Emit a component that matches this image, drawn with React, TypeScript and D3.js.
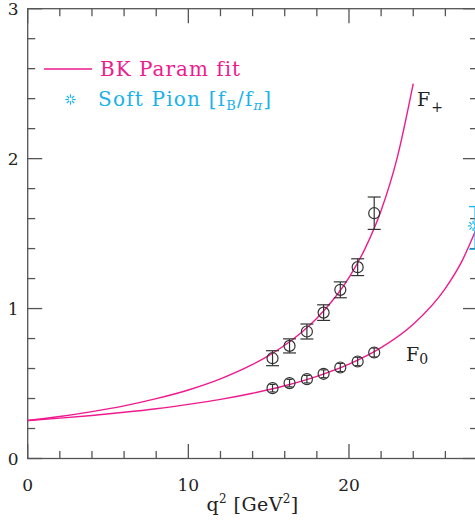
import React, { useRef, useEffect } from "react";
import * as d3 from "d3";

// lattice points (q^2 in GeV^2)
const q2Points = [15.24, 16.3, 17.38, 18.42, 19.46, 20.54, 21.57];
const fPlus = [0.669, 0.751, 0.847, 0.973, 1.125, 1.276, 1.636];
const fPlusErr = [0.05, 0.047, 0.05, 0.052, 0.053, 0.056, 0.108];
const fZero = [0.469, 0.503, 0.529, 0.565, 0.607, 0.647, 0.707];
const fZeroErr = [0.025, 0.025, 0.025, 0.026, 0.027, 0.028, 0.03];

// BK fit curves
const fitPlusQ2 = [0, 2, 4, 6, 8, 10, 12, 14, 15, 16, 17, 18, 19, 20, 21, 22, 23, 24];
const fitPlus = [0.253, 0.28, 0.313, 0.351, 0.399, 0.457, 0.531, 0.627, 0.686, 0.755, 0.837, 0.936, 1.057, 1.207, 1.4, 1.654, 2.005, 2.5];
const fitZeroQ2 = [0, 2, 4, 6, 8, 10, 12, 14, 16, 18, 20, 22, 24, 26, 27, 28];
const fitZero = [0.253, 0.269, 0.287, 0.308, 0.332, 0.361, 0.394, 0.435, 0.485, 0.548, 0.629, 0.739, 0.895, 1.135, 1.31, 1.55];

// soft pion point
const softQ2 = 27.85;
const softVal = 1.538;
const softErr = 0.142;

const xMajor = [0, 10, 20];
const xMinor = d3.range(0, 29, 2);
const yMajor = [0, 1, 2, 3];
const yMinor = d3.range(0, 3.01, 0.2);

const MAGENTA = "#ee1a8e";
const CYAN = "#1ab2ea";
const AXIS = "#555";
const FONT = "DejaVu Serif, serif";

const W = 475;
const H = 522;

export default function App() {
  const svgRef = useRef<SVGSVGElement | null>(null);

  useEffect(() => {
    const svg = svgRef.current;
    if (!svg) return;
    const sel = d3.select(svg);
    sel.selectAll("*").remove();

    const x = d3.scaleLinear().domain([0, 28]).range([27.7, 477.5]);
    const y = d3.scaleLinear().domain([0, 3]).range([458.5, 8.7]);
    const [x0, x1] = x.range();
    const [y0, y1] = y.range();

    // frame
    sel
      .append("rect")
      .attr("x", x0)
      .attr("y", y1)
      .attr("width", x1 - x0)
      .attr("height", y0 - y1)
      .attr("fill", "none")
      .attr("stroke", AXIS)
      .attr("stroke-width", 1.3);

    const ticks = sel.append("g").attr("stroke", AXIS).attr("stroke-width", 1.3);
    xMinor.forEach((v) => {
      const len = xMajor.includes(v) ? 14.5 : 7.5;
      ticks.append("line").attr("x1", x(v)).attr("x2", x(v)).attr("y1", y0).attr("y2", y0 - len);
      ticks.append("line").attr("x1", x(v)).attr("x2", x(v)).attr("y1", y1).attr("y2", y1 + len);
    });
    yMinor.forEach((v) => {
      const major = yMajor.some((m) => Math.abs(m - v) < 1e-6);
      const len = major ? 14.5 : 7.5;
      const yy = y(v);
      ticks.append("line").attr("x1", x0).attr("x2", x0 + len).attr("y1", yy).attr("y2", yy);
      ticks.append("line").attr("x1", x1).attr("x2", x1 - len).attr("y1", yy).attr("y2", yy);
    });

    // tick labels
    sel
      .append("g")
      .selectAll("text")
      .data(xMajor)
      .enter()
      .append("text")
      .attr("x", (d) => x(d))
      .attr("y", y0 + 32)
      .attr("text-anchor", "middle")
      .attr("font-family", FONT)
      .attr("font-size", 17)
      .attr("fill", "#222")
      .text((d) => String(d));

    sel
      .append("g")
      .selectAll("text")
      .data(yMajor)
      .enter()
      .append("text")
      .attr("x", x0 - 9)
      .attr("y", (d) => y(d) + 6)
      .attr("text-anchor", "end")
      .attr("font-family", FONT)
      .attr("font-size", 17)
      .attr("fill", "#222")
      .text((d) => String(d));

    // axis title
    const title = sel
      .append("text")
      .attr("x", (x0 + x1) / 2)
      .attr("y", 511)
      .attr("text-anchor", "middle")
      .attr("font-family", FONT)
      .attr("font-size", 19)
      .attr("letter-spacing", 0.4)
      .attr("fill", "#222");
    title.append("tspan").text("q");
    title.append("tspan").attr("dy", -8).attr("font-size", 12).text("2");
    title.append("tspan").attr("dy", 8).text("  [GeV");
    title.append("tspan").attr("dy", -8).attr("font-size", 12).text("2");
    title.append("tspan").attr("dy", 8).text("]");

    // fit curves
    const line = d3
      .line<[number, number]>()
      .x((d) => x(d[0]))
      .y((d) => y(d[1]))
      .curve(d3.curveMonotoneX);

    sel
      .append("path")
      .attr("d", line(fitPlusQ2.map((q, i) => [q, fitPlus[i]]) as [number, number][]))
      .attr("fill", "none")
      .attr("stroke", MAGENTA)
      .attr("stroke-width", 1.4);
    sel
      .append("path")
      .attr("d", line(fitZeroQ2.map((q, i) => [q, fitZero[i]]) as [number, number][]))
      .attr("fill", "none")
      .attr("stroke", MAGENTA)
      .attr("stroke-width", 1.4);

    // data points
    const drawPoints = (vals: number[], errs: number[], cap: number) => {
      const g = sel.append("g").attr("stroke", "#333").attr("stroke-width", 1.2).attr("fill", "none");
      q2Points.forEach((q, i) => {
        const cx = x(q);
        const top = y(vals[i] + errs[i]);
        const bot = y(vals[i] - errs[i]);
        g.append("line").attr("x1", cx).attr("x2", cx).attr("y1", top).attr("y2", bot);
        g.append("line").attr("x1", cx - cap).attr("x2", cx + cap).attr("y1", top).attr("y2", top);
        g.append("line").attr("x1", cx - cap).attr("x2", cx + cap).attr("y1", bot).attr("y2", bot);
        g.append("circle").attr("cx", cx).attr("cy", y(vals[i])).attr("r", 5.5);
      });
    };
    drawPoints(fPlus, fPlusErr, 6.5);
    drawPoints(fZero, fZeroErr, 3);

    // star marker
    const star = (cx: number, cy: number) => {
      const g = sel.append("g").attr("stroke", CYAN).attr("stroke-width", 1.2);
      d3.range(8).forEach((k) => {
        const a = (k * Math.PI) / 4;
        g.append("line")
          .attr("x1", cx + 1.8 * Math.cos(a))
          .attr("y1", cy + 1.8 * Math.sin(a))
          .attr("x2", cx + 5.2 * Math.cos(a))
          .attr("y2", cy + 5.2 * Math.sin(a));
      });
    };

    // soft pion point
    const sx = x(softQ2);
    const sg = sel.append("g").attr("stroke", CYAN).attr("stroke-width", 1.3);
    sg.append("line").attr("x1", sx).attr("x2", sx).attr("y1", y(softVal + softErr)).attr("y2", y(softVal - softErr));
    sg.append("line").attr("x1", sx - 6).attr("x2", sx + 6).attr("y1", y(softVal + softErr)).attr("y2", y(softVal + softErr));
    sg.append("line").attr("x1", sx - 6).attr("x2", sx + 6).attr("y1", y(softVal - softErr)).attr("y2", y(softVal - softErr));
    star(sx - 2, y(softVal) - 2);

    // legend
    sel
      .append("line")
      .attr("x1", 44)
      .attr("x2", 92)
      .attr("y1", 69)
      .attr("y2", 69)
      .attr("stroke", MAGENTA)
      .attr("stroke-width", 1.4);
    sel
      .append("text")
      .attr("x", 100)
      .attr("y", 76)
      .attr("font-family", FONT)
      .attr("font-size", 20)
      .attr("letter-spacing", 1.0)
      .attr("fill", MAGENTA)
      .text("BK Param fit");

    star(70.5, 99.5);
    const sp = sel
      .append("text")
      .attr("x", 98)
      .attr("y", 106)
      .attr("font-family", FONT)
      .attr("font-size", 20)
      .attr("letter-spacing", 1.2)
      .attr("fill", CYAN);
    sp.append("tspan").text("Soft Pion [f");
    sp.append("tspan").attr("dy", 4).attr("font-size", 13).text("B");
    sp.append("tspan").attr("dy", -4).text("/f");
    sp.append("tspan").attr("dy", 4).attr("font-size", 13).attr("font-style", "italic").text("π");
    sp.append("tspan").attr("dy", -4).text("]");

    // curve labels
    const fp = sel
      .append("text")
      .attr("x", 417)
      .attr("y", 106)
      .attr("font-family", FONT)
      .attr("font-size", 19)
      .attr("fill", "#222");
    fp.append("tspan").text("F");
    fp.append("tspan").attr("dx", 1).attr("dy", 6).attr("font-size", 14).text("+");

    const f0 = sel
      .append("text")
      .attr("x", 406)
      .attr("y", 361)
      .attr("font-family", FONT)
      .attr("font-size", 19)
      .attr("fill", "#222");
    f0.append("tspan").text("F");
    f0.append("tspan").attr("dy", 3).attr("font-size", 14).text("0");
  }, []);

  return (
    <svg
      ref={svgRef}
      width={W}
      height={H}
      style={{ position: "absolute", left: 0, top: 0, background: "#fff" }}
    />
  );
}
